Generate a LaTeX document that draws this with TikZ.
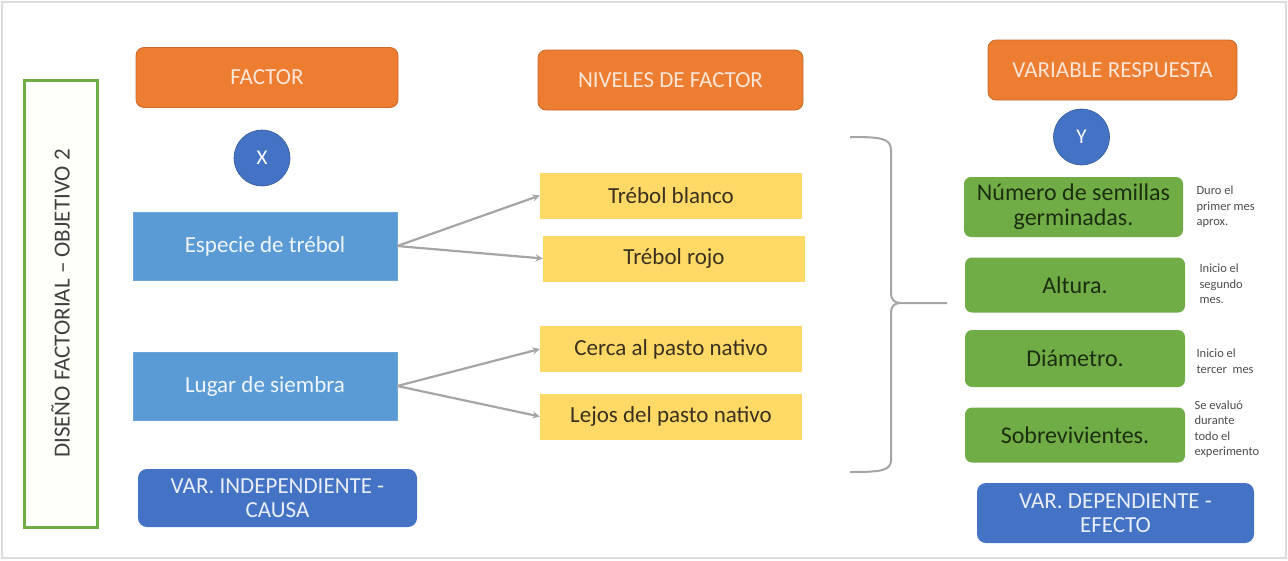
\documentclass[tikz,border=0pt]{standalone}
\usepackage{fontspec}
\setmainfont{Carlito}
\usepackage{xcolor}
\usepackage{tikz}
\usetikzlibrary{shapes, arrows, positioning, calc}
\definecolor{HeadOrange}{HTML}{ED7D31}
\definecolor{HeadText}{HTML}{FBE5D6}
\definecolor{VarBlue}{HTML}{4472C4}
\definecolor{FactorBlue}{HTML}{5B9BD5}
\definecolor{LevelYellow}{HTML}{FFD966}
\definecolor{LevelText}{HTML}{3A3020}
\definecolor{RespGreen}{HTML}{70AD47}
\definecolor{RespText}{HTML}{1C2E10}
\definecolor{LinkGray}{HTML}{A5A5A5}
\definecolor{FrameGray}{HTML}{DDDDDD}

\begin{document}
\begin{tikzpicture}[
        x=1pt, y=-1pt,
        header/.style={rounded corners=8pt, fill=HeadOrange, draw=HeadOrange!85!black, line width=0.8pt, text=HeadText, font=\fontsize{23}{27}\selectfont, minimum width=262pt, minimum height=60pt},
        varcirc/.style={circle, fill=VarBlue, draw=VarBlue!80!black, line width=0.6pt, text=white, minimum size=56pt, inner sep=0pt, font=\fontsize{21}{24}\selectfont},
        factorbox/.style={fill=FactorBlue, draw=FactorBlue!90!white, text=white!90!FactorBlue, minimum width=264pt, minimum height=68pt, font=\fontsize{23}{27}\selectfont},
        levelbox/.style={fill=LevelYellow, text=LevelText, minimum width=262pt, minimum height=46pt, font=\fontsize{23}{27}\selectfont},
        respbox/.style={rounded corners=7pt, fill=RespGreen, text=RespText, minimum width=220pt, minimum height=55pt, align=center, font=\fontsize{24}{27}\selectfont},
        varbox/.style={rounded corners=9pt, fill=VarBlue, text=white!88!VarBlue, minimum height=58pt, align=center, font=\fontsize{23}{24}\selectfont},
        note/.style={anchor=west, align=left, text=black!70, font=\fontsize{12.5}{15.5}\selectfont},
        link/.style={->, >=stealth, draw=LinkGray, line width=2.2pt},
        scale=1.0
    ]

    \useasboundingbox (0,0) rectangle (1288,560);
    \draw[FrameGray, line width=2pt] (2,2) rectangle (1286,558);

    % design label
    \node[draw=RespGreen, line width=3pt, fill=green!3!yellow!2!white, minimum width=73pt, minimum height=447pt] (design) at (60.5,303.5) {};
    \node[rotate=90, text=black!75, font=\fontsize{23}{26}\selectfont] (designtext) at (design.center) {DISEÑO FACTORIAL – OBJETIVO 2};

    % factor column
    \node[header] (factor) at (267,77.5) {FACTOR};
    \node[varcirc] (xvar) at (262,158) {X};
    \node[factorbox] (especie) at (265,246) {Especie de trébol};
    \node[factorbox] (lugar) at (265,386) {Lugar de siembra};
    \node[varbox, minimum width=279pt] (causa) at (277.5,498) {VAR. INDEPENDIENTE -\\CAUSA};

    % levels column
    \node[header, minimum width=265pt] (niveles) at (670.5,80) {NIVELES DE FACTOR};
    \node[levelbox] (blanco) at (671,195.5) {Trébol blanco};
    \node[levelbox] (rojo) at (674,258.5) {Trébol rojo};
    \node[levelbox] (cerca) at (671,349) {Cerca al pasto nativo};
    \node[levelbox] (lejos) at (671,416.5) {Lejos del pasto nativo};

    \draw[link] (especie.east) -- (blanco.west);
    \draw[link] (especie.east) -- (rojo.west);
    \draw[link] (lugar.east) -- (cerca.west);
    \draw[link] (lugar.east) -- (lejos.west);

    % brace
    \coordinate (tip) at (947,303);
    \draw[LinkGray, line width=2pt] (850,137) .. controls (880,137) and (891,138) .. (891,150) -- (891,292) .. controls (891,300) and (894,303) .. (901,303) -- (tip);
    \draw[LinkGray, line width=2pt] (850,472) .. controls (880,472) and (891,471) .. (891,460) -- (891,314) .. controls (891,306) and (894,303) .. (901,303);

    % response column
    \node[header, minimum width=249pt] (respuesta) at (1112.5,70) {VARIABLE RESPUESTA};
    \node[varcirc] (yvar) at (1081.5,137) {Y};
    \node[respbox, minimum width=219pt, minimum height=60pt] (semillas) at (1073.5,207) {Número de semillas\\[-2pt]germinadas.};
    \node[respbox] (altura) at (1075,285) {Altura.};
    \node[respbox, minimum height=57pt] (diametro) at (1075,358.5) {Diámetro.};
    \node[respbox] (sobrev) at (1075,435) {Sobrevivientes.};
    \node[varbox, minimum width=277pt, minimum height=60pt] (efecto) at (1115.5,513) {VAR. DEPENDIENTE -\\EFECTO};

    \node[note] (n1) at (1193,207) {Duro el\\primer mes\\aprox.};
    \node[note] (n2) at (1196,284) {Inicio el\\segundo\\mes.};
    \node[note] (n3) at (1193,361) {Inicio el\\tercer\ \ mes};
    \node[note] (n4) at (1191,429) {Se evaluó\\durante\\todo el\\experimento};

    \end{tikzpicture}
\end{document}
